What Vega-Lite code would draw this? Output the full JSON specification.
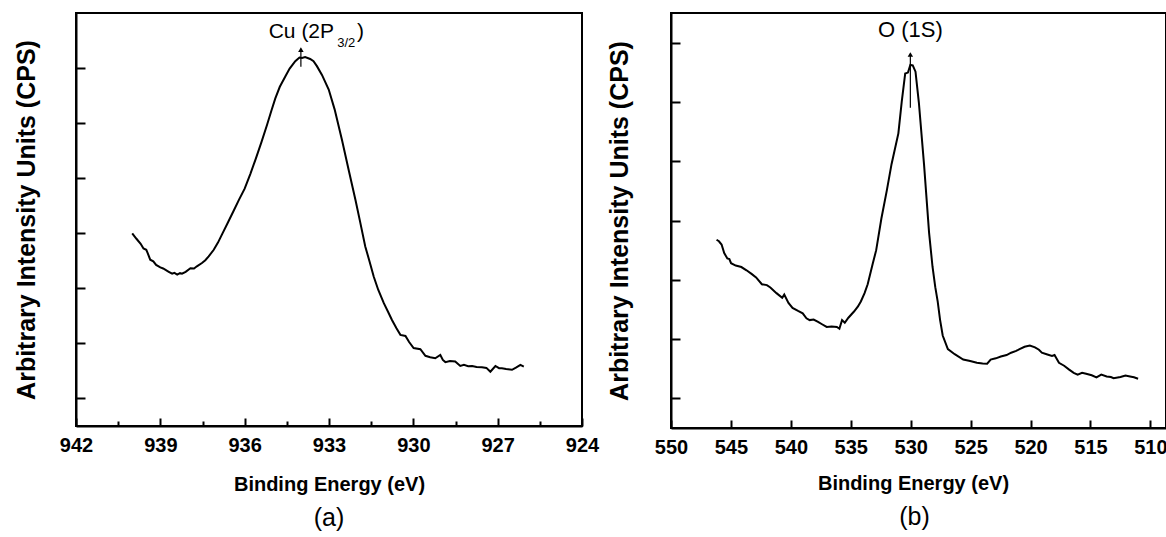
{
  "$schema": "https://vega.github.io/schema/vega-lite/v6.json",
  "background": "white",
  "padding": {"left": 13, "top": 12, "right": 0, "bottom": 0},
  "bounds": "flush",
  "spacing": 89,
  "config": {
    "font": "Liberation Sans",
    "view": {"stroke": "black", "strokeWidth": 2},
    "axis": {
      "grid": false,
      "domainColor": "black", "domainWidth": 2,
      "tickColor": "black", "tickWidth": 2,
      "labelFont": "Liberation Sans", "labelFontWeight": "bold", "labelFontSize": 20, "labelColor": "black",
      "titleFont": "Liberation Sans", "titleFontWeight": "bold", "titleFontSize": 20, "titleColor": "black"
    }
  },
  "hconcat": [
    {
      "width": 506,
      "height": 413,
      "title": {"text": "(a)", "orient": "bottom", "fontSize": 25, "fontWeight": "normal", "font": "Liberation Sans", "color": "black", "offset": 12},
      "layer": [
        {
          "data": {"values": [
            {"energy": 940.0, "intensity": 7.00},
            {"energy": 939.85, "intensity": 6.80},
            {"energy": 939.7, "intensity": 6.62},
            {"energy": 939.6, "intensity": 6.45},
            {"energy": 939.5, "intensity": 6.40},
            {"energy": 939.45, "intensity": 6.28},
            {"energy": 939.36, "intensity": 6.04},
            {"energy": 939.25, "intensity": 5.98},
            {"energy": 939.15, "intensity": 5.85},
            {"energy": 939.0, "intensity": 5.76},
            {"energy": 938.9, "intensity": 5.72},
            {"energy": 938.8, "intensity": 5.66},
            {"energy": 938.7, "intensity": 5.60},
            {"energy": 938.58, "intensity": 5.53},
            {"energy": 938.5, "intensity": 5.56},
            {"energy": 938.4, "intensity": 5.50},
            {"energy": 938.3, "intensity": 5.55},
            {"energy": 938.23, "intensity": 5.53},
            {"energy": 938.1, "intensity": 5.60},
            {"energy": 937.93, "intensity": 5.73},
            {"energy": 937.8, "intensity": 5.72},
            {"energy": 937.7, "intensity": 5.80},
            {"energy": 937.52, "intensity": 5.92},
            {"energy": 937.4, "intensity": 6.02},
            {"energy": 937.28, "intensity": 6.16},
            {"energy": 937.1, "intensity": 6.40},
            {"energy": 936.95, "intensity": 6.66},
            {"energy": 936.81, "intensity": 6.95},
            {"energy": 936.6, "intensity": 7.38},
            {"energy": 936.4, "intensity": 7.80},
            {"energy": 936.2, "intensity": 8.22},
            {"energy": 936.0, "intensity": 8.62},
            {"energy": 935.8, "intensity": 9.15},
            {"energy": 935.6, "intensity": 9.72},
            {"energy": 935.4, "intensity": 10.32},
            {"energy": 935.2, "intensity": 10.95},
            {"energy": 935.05, "intensity": 11.45},
            {"energy": 934.91, "intensity": 11.90},
            {"energy": 934.75, "intensity": 12.32},
            {"energy": 934.55, "intensity": 12.70},
            {"energy": 934.4, "intensity": 12.98},
            {"energy": 934.2, "intensity": 13.25},
            {"energy": 934.05, "intensity": 13.38},
            {"energy": 933.96, "intensity": 13.37},
            {"energy": 933.85, "intensity": 13.40},
            {"energy": 933.67, "intensity": 13.33},
            {"energy": 933.55, "intensity": 13.25},
            {"energy": 933.43, "intensity": 13.07},
            {"energy": 933.25, "intensity": 12.75},
            {"energy": 933.01, "intensity": 12.22},
            {"energy": 932.8, "intensity": 11.50},
            {"energy": 932.54, "intensity": 10.40},
            {"energy": 932.3, "intensity": 9.30},
            {"energy": 932.06, "intensity": 8.22},
            {"energy": 931.9, "intensity": 7.45},
            {"energy": 931.71, "intensity": 6.52},
            {"energy": 931.55, "intensity": 5.95},
            {"energy": 931.41, "intensity": 5.43},
            {"energy": 931.25, "intensity": 4.95},
            {"energy": 931.05, "intensity": 4.46},
            {"energy": 930.9, "intensity": 4.15},
            {"energy": 930.76, "intensity": 3.85},
            {"energy": 930.6, "intensity": 3.55},
            {"energy": 930.46, "intensity": 3.31},
            {"energy": 930.28, "intensity": 3.27},
            {"energy": 930.15, "intensity": 3.05},
            {"energy": 929.99, "intensity": 2.83},
            {"energy": 929.75, "intensity": 2.79},
            {"energy": 929.57, "intensity": 2.55},
            {"energy": 929.4, "intensity": 2.50},
            {"energy": 929.22, "intensity": 2.46},
            {"energy": 929.04, "intensity": 2.58},
            {"energy": 928.95, "intensity": 2.40},
            {"energy": 928.86, "intensity": 2.32},
            {"energy": 928.7, "intensity": 2.36},
            {"energy": 928.51, "intensity": 2.34},
            {"energy": 928.33, "intensity": 2.18},
            {"energy": 928.2, "intensity": 2.22},
            {"energy": 928.05, "intensity": 2.17},
            {"energy": 927.91, "intensity": 2.18},
            {"energy": 927.75, "intensity": 2.14},
            {"energy": 927.56, "intensity": 2.13},
            {"energy": 927.4, "intensity": 2.11},
            {"energy": 927.26, "intensity": 1.97},
            {"energy": 927.08, "intensity": 2.18},
            {"energy": 926.95, "intensity": 2.10},
            {"energy": 926.85, "intensity": 2.10},
            {"energy": 926.7, "intensity": 2.07},
            {"energy": 926.49, "intensity": 2.04},
            {"energy": 926.35, "intensity": 2.12},
            {"energy": 926.19, "intensity": 2.22},
            {"energy": 926.07, "intensity": 2.16}
          ]},
          "mark": {"type": "line", "color": "black", "strokeWidth": 2},
          "encoding": {
            "x": {
              "field": "energy", "type": "quantitative",
              "scale": {"domain": [924, 942], "reverse": true, "nice": false, "zero": false},
              "axis": {
                "title": "Binding Energy (eV)",
                "values": [942, 940.5, 939, 937.5, 936, 934.5, 933, 931.5, 930, 928.5, 927, 925.5, 924],
                "labelExpr": "datum.value % 3 === 0 ? datum.label : ''",
                "format": "d",
                "tickSize": {"condition": {"test": "datum.value % 3 === 0", "value": -8}, "value": -5},
                "labelPadding": 17,
                "labelFlush": false,
                "labelOverlap": false,
                "titlePadding": 16
              }
            },
            "y": {
              "field": "intensity", "type": "quantitative",
              "scale": {"domain": [0, 15], "nice": false, "zero": false},
              "axis": {
                "title": "Arbitrary Intensity Units (CPS)",
                "titleFontSize": 25,
                "values": [1, 2, 3, 4, 5, 6, 7, 8, 9, 10, 11, 12, 13, 14],
                "labels": false,
                "tickSize": -9,
                "titlePadding": 36
              }
            }
          }
        },
        {
          "data": {"values": [{"energy": 934.0, "y1": 13.05, "y2": 13.7}]},
          "mark": {"type": "rule", "color": "black", "strokeWidth": 1.2},
          "encoding": {
            "x": {"field": "energy", "type": "quantitative"},
            "y": {"field": "y1", "type": "quantitative"},
            "y2": {"field": "y2"}
          }
        },
        {
          "data": {"values": [{"energy": 934.0, "y": 13.67}]},
          "mark": {"type": "point", "shape": "triangle-up", "filled": true, "color": "black", "size": 30, "opacity": 1},
          "encoding": {
            "x": {"field": "energy", "type": "quantitative"},
            "y": {"field": "y", "type": "quantitative"}
          }
        },
        {
          "data": {"values": [{"energy": 932.82, "y": 14.11, "label": "Cu (2P"}]},
          "mark": {"type": "text", "align": "right", "baseline": "alphabetic", "fontSize": 21, "font": "Liberation Sans", "color": "black"},
          "encoding": {
            "x": {"field": "energy", "type": "quantitative"},
            "y": {"field": "y", "type": "quantitative"},
            "text": {"field": "label"}
          }
        },
        {
          "data": {"values": [{"energy": 932.71, "y": 13.76, "label": "3/2"}]},
          "mark": {"type": "text", "align": "left", "baseline": "alphabetic", "fontSize": 13, "font": "Liberation Sans", "color": "black"},
          "encoding": {
            "x": {"field": "energy", "type": "quantitative"},
            "y": {"field": "y", "type": "quantitative"},
            "text": {"field": "label"}
          }
        },
        {
          "data": {"values": [{"energy": 932.0, "y": 14.11, "label": ")"}]},
          "mark": {"type": "text", "align": "left", "baseline": "alphabetic", "fontSize": 21, "font": "Liberation Sans", "color": "black"},
          "encoding": {
            "x": {"field": "energy", "type": "quantitative"},
            "y": {"field": "y", "type": "quantitative"},
            "text": {"field": "label"}
          }
        }
      ]
    },
    {
      "width": 495,
      "height": 415,
      "title": {"text": "(b)", "orient": "bottom", "fontSize": 25, "fontWeight": "normal", "font": "Liberation Sans", "color": "black", "offset": 12, "dx": -4},
      "layer": [
        {
          "data": {"values": [
            {"energy": 546.2, "intensity": 6.35},
            {"energy": 546.0, "intensity": 6.30},
            {"energy": 545.78, "intensity": 6.19},
            {"energy": 545.56, "intensity": 5.90},
            {"energy": 545.3, "intensity": 5.72},
            {"energy": 545.13, "intensity": 5.70},
            {"energy": 544.99, "intensity": 5.56},
            {"energy": 544.6, "intensity": 5.48},
            {"energy": 544.13, "intensity": 5.43},
            {"energy": 543.7, "intensity": 5.32},
            {"energy": 543.28, "intensity": 5.20},
            {"energy": 542.9, "intensity": 5.08},
            {"energy": 542.42, "intensity": 4.85},
            {"energy": 542.0, "intensity": 4.82},
            {"energy": 541.71, "intensity": 4.74},
            {"energy": 541.2, "intensity": 4.55},
            {"energy": 540.72, "intensity": 4.39},
            {"energy": 540.55, "intensity": 4.50},
            {"energy": 540.2, "intensity": 4.22},
            {"energy": 539.86, "intensity": 4.05},
            {"energy": 539.4, "intensity": 3.95},
            {"energy": 539.01, "intensity": 3.87},
            {"energy": 538.7, "intensity": 3.70},
            {"energy": 538.43, "intensity": 3.64},
            {"energy": 538.1, "intensity": 3.66},
            {"energy": 537.73, "intensity": 3.58},
            {"energy": 537.4, "intensity": 3.50},
            {"energy": 537.01, "intensity": 3.41},
            {"energy": 536.6, "intensity": 3.42},
            {"energy": 536.16, "intensity": 3.41},
            {"energy": 535.95, "intensity": 3.35},
            {"energy": 535.73, "intensity": 3.64},
            {"energy": 535.5, "intensity": 3.55},
            {"energy": 535.2, "intensity": 3.72},
            {"energy": 534.73, "intensity": 3.93},
            {"energy": 534.4, "intensity": 4.10},
            {"energy": 534.16, "intensity": 4.27},
            {"energy": 533.85, "intensity": 4.55},
            {"energy": 533.59, "intensity": 4.85},
            {"energy": 533.17, "intensity": 5.54},
            {"energy": 532.88, "intensity": 6.00},
            {"energy": 532.45, "intensity": 7.06},
            {"energy": 532.0, "intensity": 8.00},
            {"energy": 531.6, "intensity": 8.90},
            {"energy": 531.03, "intensity": 9.94},
            {"energy": 530.75, "intensity": 11.0},
            {"energy": 530.46, "intensity": 11.96},
            {"energy": 530.23, "intensity": 11.99},
            {"energy": 530.03, "intensity": 12.25},
            {"energy": 529.83, "intensity": 12.23},
            {"energy": 529.6, "intensity": 12.02},
            {"energy": 529.32, "intensity": 10.98},
            {"energy": 528.89, "intensity": 8.90},
            {"energy": 528.47, "intensity": 6.60},
            {"energy": 528.18, "intensity": 5.44},
            {"energy": 527.95, "intensity": 4.75},
            {"energy": 527.75, "intensity": 4.27},
            {"energy": 527.55, "intensity": 3.65},
            {"energy": 527.33, "intensity": 3.12},
            {"energy": 526.9, "intensity": 2.66},
            {"energy": 526.33, "intensity": 2.49},
            {"energy": 525.62, "intensity": 2.31},
            {"energy": 525.04, "intensity": 2.26},
            {"energy": 524.48, "intensity": 2.20},
            {"energy": 524.0, "intensity": 2.18},
            {"energy": 523.62, "intensity": 2.17},
            {"energy": 523.33, "intensity": 2.31},
            {"energy": 522.9, "intensity": 2.35},
            {"energy": 522.48, "intensity": 2.41},
            {"energy": 522.0, "intensity": 2.46},
            {"energy": 521.62, "intensity": 2.54},
            {"energy": 521.2, "intensity": 2.60},
            {"energy": 520.92, "intensity": 2.66},
            {"energy": 520.5, "intensity": 2.74},
            {"energy": 520.06, "intensity": 2.78},
            {"energy": 519.63, "intensity": 2.72},
            {"energy": 519.3, "intensity": 2.64},
            {"energy": 519.06, "intensity": 2.54},
            {"energy": 518.6, "intensity": 2.48},
            {"energy": 518.21, "intensity": 2.43},
            {"energy": 518.0, "intensity": 2.46},
            {"energy": 517.63, "intensity": 2.20},
            {"energy": 517.2, "intensity": 2.10},
            {"energy": 516.78, "intensity": 1.97},
            {"energy": 516.4, "intensity": 1.86},
            {"energy": 516.07, "intensity": 1.80},
            {"energy": 515.7, "intensity": 1.86},
            {"energy": 515.36, "intensity": 1.83},
            {"energy": 514.9, "intensity": 1.78},
            {"energy": 514.5, "intensity": 1.71},
            {"energy": 514.1, "intensity": 1.80},
            {"energy": 513.65, "intensity": 1.74},
            {"energy": 513.3, "intensity": 1.72},
            {"energy": 513.07, "intensity": 1.68},
            {"energy": 512.5, "intensity": 1.72},
            {"energy": 512.08, "intensity": 1.77},
            {"energy": 511.7, "intensity": 1.74},
            {"energy": 511.37, "intensity": 1.71},
            {"energy": 511.03, "intensity": 1.66}
          ]},
          "mark": {"type": "line", "color": "black", "strokeWidth": 2},
          "encoding": {
            "x": {
              "field": "energy", "type": "quantitative",
              "scale": {"domain": [508.7, 550], "reverse": true, "nice": false, "zero": false},
              "axis": {
                "title": "Binding Energy (eV)",
                "titleX": 242,
                "values": [550, 547.5, 545, 542.5, 540, 537.5, 535, 532.5, 530, 527.5, 525, 522.5, 520, 517.5, 515, 512.5, 510],
                "labelExpr": "datum.value % 5 === 0 ? datum.label : ''",
                "format": "d",
                "tickSize": {"condition": {"test": "datum.value % 5 === 0", "value": -8}, "value": -5},
                "labelPadding": 17,
                "labelFlush": false,
                "labelOverlap": false,
                "titlePadding": 16
              }
            },
            "y": {
              "field": "intensity", "type": "quantitative",
              "scale": {"domain": [0, 14], "nice": false, "zero": false},
              "axis": {
                "title": "Arbitrary Intensity Units (CPS)",
                "titleFontSize": 25,
                "values": [1, 2, 3, 4, 5, 6, 7, 8, 9, 10, 11, 12, 13],
                "labels": false,
                "tickSize": -9,
                "titlePadding": 38
              }
            }
          }
        },
        {
          "data": {"values": [{"energy": 530.03, "y1": 10.8, "y2": 12.6}]},
          "mark": {"type": "rule", "color": "black", "strokeWidth": 1.2},
          "encoding": {
            "x": {"field": "energy", "type": "quantitative"},
            "y": {"field": "y1", "type": "quantitative"},
            "y2": {"field": "y2"}
          }
        },
        {
          "data": {"values": [{"energy": 530.03, "y": 12.6}]},
          "mark": {"type": "point", "shape": "triangle-up", "filled": true, "color": "black", "size": 30, "opacity": 1},
          "encoding": {
            "x": {"field": "energy", "type": "quantitative"},
            "y": {"field": "y", "type": "quantitative"}
          }
        },
        {
          "data": {"values": [{"energy": 530.03, "y": 13.19, "label": "O (1S)"}]},
          "mark": {"type": "text", "align": "center", "baseline": "alphabetic", "fontSize": 22, "font": "Liberation Sans", "color": "black"},
          "encoding": {
            "x": {"field": "energy", "type": "quantitative"},
            "y": {"field": "y", "type": "quantitative"},
            "text": {"field": "label"}
          }
        }
      ]
    }
  ]
}
